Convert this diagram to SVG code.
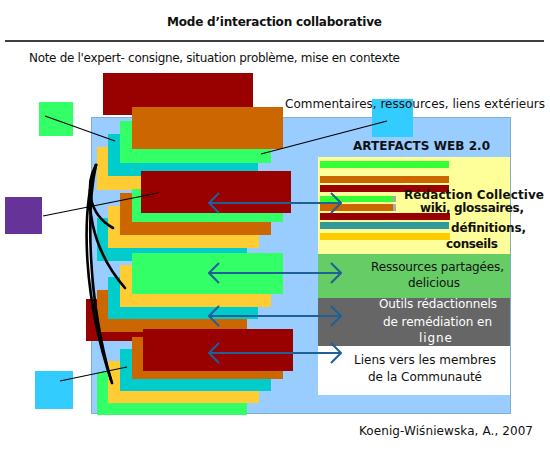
<svg xmlns="http://www.w3.org/2000/svg" width="550" height="450" viewBox="0 0 550 450">
<style>
text{font-family:"DejaVu Sans","Liberation Sans",Verdana,sans-serif;font-size:12px;fill:#111}
.b{font-weight:bold}
.m{text-anchor:middle}
.dr{fill:#990000}.or{fill:#CC6600}.gr{fill:#33FF66}.cy{fill:#00CCCC}.ye{fill:#FFCC33}
.thin{stroke:#000;stroke-width:1.2;fill:none}
.curve{stroke:#000;stroke-width:2.6;fill:none;stroke-linecap:round}
.arr{stroke:#1F6099;stroke-width:2;fill:none}
</style>
<defs>
<marker id="chev" viewBox="0 0 12 22" refX="11" refY="11" markerWidth="12" markerHeight="22" markerUnits="userSpaceOnUse" orient="auto-start-reverse">
<path d="M1,1 L11,11 L1,21" fill="none" stroke="#1F6099" stroke-width="2"/>
</marker>
</defs>
<rect width="550" height="450" fill="#fff"/>
<g id="title">
<text class="b m" x="274.5" y="26" font-size="11.5" textLength="215">Mode d’interaction collaborative</text>
<line x1="5" y1="41" x2="544" y2="41" stroke="#000" stroke-width="1.5"/>
</g>
<text id="note" x="29" y="62" textLength="371">Note de l'expert- consigne, situation problème, mise en contexte</text>
<g id="box">
<rect x="91.5" y="117.5" width="419" height="296" fill="#99CCFF" stroke="#7FAFD0" stroke-width="1"/>
</g>
<g id="sq-cyan-top"><rect x="372" y="99" width="41" height="38" fill="#33CCFF"/></g>
<text id="commentaires" x="285" y="108" textLength="260">Commentaires, ressources, liens extérieurs</text>
<g id="stack1">
<rect class="dr" x="103" y="73" width="150" height="42"/>
<rect class="ye" x="97" y="147" width="150" height="43"/>
<rect class="cy" x="108" y="134" width="150" height="42"/>
<rect class="gr" x="120" y="121" width="151" height="42"/>
<rect class="or" x="132" y="107" width="151" height="42"/>
</g>
<g id="stack2">
<rect class="cy" x="97" y="218" width="150" height="43"/>
<rect class="ye" x="108" y="206" width="151" height="42"/>
<rect class="or" x="120" y="193" width="151" height="42"/>
<rect class="gr" x="132" y="189" width="151" height="33"/>
<rect class="dr" x="141" y="171" width="150" height="42"/>
</g>
<g id="stack3">
<rect class="dr" x="86" y="299" width="150" height="42"/>
<rect class="or" x="97" y="290" width="150" height="42"/>
<rect class="cy" x="108" y="277" width="150" height="42"/>
<rect class="ye" x="120" y="265" width="151" height="42"/>
<rect class="gr" x="132" y="253" width="151" height="41"/>
</g>
<g id="stack4">
<rect class="gr" x="97" y="372" width="150" height="43"/>
<rect class="ye" x="108" y="361" width="151" height="42"/>
<rect class="cy" x="120" y="349" width="151" height="42"/>
<rect class="or" x="132" y="337" width="151" height="42"/>
<rect class="dr" x="143" y="329" width="150" height="42"/>
</g>
<g id="panel-redaction">
<rect x="318" y="157" width="192" height="97" fill="#FFFF99"/>
<rect x="320" y="161" width="129" height="7" fill="#33FF33"/>
<rect x="320" y="176" width="129" height="7" fill="#CC6600"/>
<rect x="320" y="185" width="129" height="7" fill="#990000"/>
<rect x="393" y="196" width="3" height="6" fill="#aaa"/>
<rect x="320" y="196" width="73" height="6" fill="#33FF33"/>
<rect x="393" y="204" width="3" height="7" fill="#aaa"/>
<rect x="320" y="204" width="73" height="7" fill="#CC6600"/>
<rect x="320" y="213" width="130" height="7" fill="#990000"/>
<rect x="320" y="222" width="129" height="7" fill="#339999"/>
<rect x="320" y="233" width="130" height="7" fill="#FFCC00"/>
<text class="b" x="404" y="199" textLength="140">Rédaction Collective</text>
<text class="b" x="420" y="212" textLength="104">wiki, glossaires,</text>
<text class="b" x="451" y="232" textLength="75">définitions,</text>
<text class="b" x="446" y="248" textLength="52">conseils</text>
</g>
<text id="artefacts" class="b" x="353" y="150" font-size="12.5" textLength="137">ARTEFACTS WEB 2.0</text>
<g id="panel-ressources">
<rect x="318" y="254" width="192" height="44" fill="#66CC66"/>
<text class="m" x="437.5" y="271" fill="#1a2a1a" textLength="133">Ressources partagées,</text>
<text class="m" x="434" y="287" textLength="52">delicious</text>
</g>
<g id="panel-outils">
<rect x="318" y="298" width="192" height="48" fill="#666666"/>
<text class="m" x="438" y="308" style="fill:#fff" textLength="118">Outils rédactionnels</text>
<text class="m" x="437.5" y="326" style="fill:#fff" textLength="109">de remédiation en</text>
<text class="m" x="435.5" y="342" style="fill:#fff" textLength="33">ligne</text>
</g>
<g id="panel-liens">
<rect x="318" y="346" width="192" height="49" fill="#ffffff"/>
<text class="m" x="425" y="364" textLength="142">Liens vers les membres</text>
<text class="m" x="425" y="381" textLength="114">de la Communauté</text>
</g>
<g id="sq-green"><rect x="39" y="102" width="34" height="34" fill="#33FF66"/></g>
<g id="sq-purple"><rect x="5" y="197" width="37" height="37" fill="#663399"/></g>
<g id="sq-cyan-bottom"><rect x="35" y="371" width="38" height="38" fill="#33CCFF"/></g>
<g id="connectors">
<line class="thin" x1="45" y1="116" x2="115" y2="141"/>
<line class="thin" x1="43" y1="216" x2="158" y2="193"/>
<line class="thin" x1="387" y1="121" x2="261" y2="154"/>
<line class="thin" x1="60" y1="381" x2="127" y2="367"/>
<path class="curve" d="M96,165 C85,185 88,214 113,228"/>
<path class="curve" d="M96,165 C82,200 92,250 125,288"/>
<path class="curve" d="M96,165 C80,215 84,300 112,383"/>
<path class="curve" d="M96,165 C86,210 88,300 111,380"/>
<line class="arr" x1="209" y1="203" x2="341" y2="203" marker-start="url(#chev)" marker-end="url(#chev)"/>
<line class="arr" x1="209" y1="273" x2="341" y2="273" marker-start="url(#chev)" marker-end="url(#chev)"/>
<line class="arr" x1="209" y1="316" x2="341" y2="316" marker-start="url(#chev)" marker-end="url(#chev)"/>
<line class="arr" x1="209" y1="353" x2="341" y2="353" marker-start="url(#chev)" marker-end="url(#chev)"/>
</g>
<text id="credit" x="359" y="435" textLength="174">Koenig-Wiśniewska, A., 2007</text>
</svg>
